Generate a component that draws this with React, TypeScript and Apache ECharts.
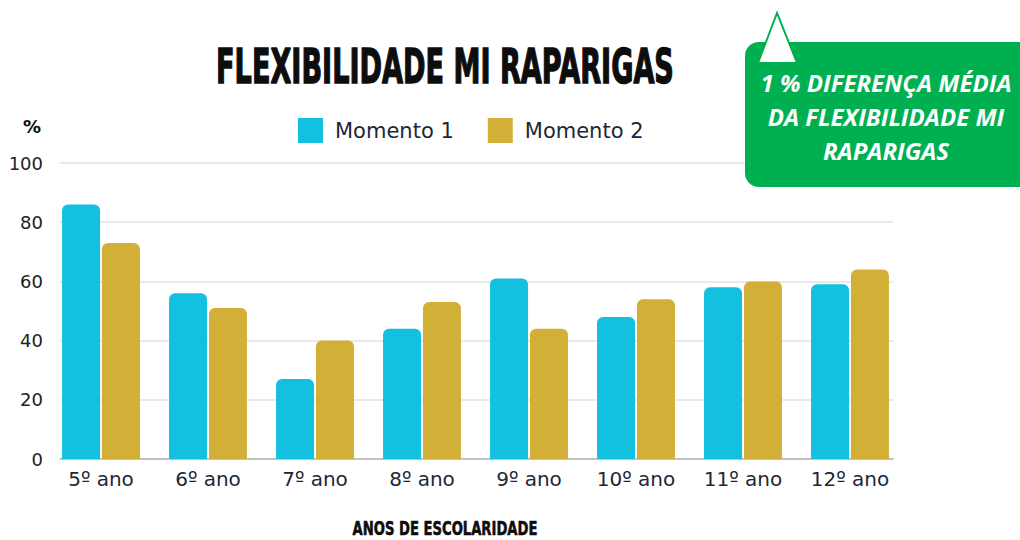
import React, { useEffect, useRef } from "react";
import * as echarts from "echarts";

const categories = ["5º ano", "6º ano", "7º ano", "8º ano", "9º ano", "10º ano", "11º ano", "12º ano"];
const momento1 = [86, 56, 27, 44, 61, 48, 58, 59];
const momento2 = [73, 51, 40, 53, 44, 54, 60, 64];
const seriesNames = ["Momento 1", "Momento 2"];
const yMin = 0;
const yMax = 100;
const yInterval = 20;
const titleText = "FLEXIBILIDADE MI RAPARIGAS";
const xAxisTitle = "ANOS DE ESCOLARIDADE";
const yAxisTitle = "%";
const calloutLines = ["1 % DIFERENÇA MÉDIA", "DA FLEXIBILIDADE MI", "RAPARIGAS"];

const BLUE = "#13c0e0";
const GOLD = "#d2b038";
const GREEN = "#00b050";
const INK = "#1e2736";

function fitScale(text: string, font: string, target: number): number {
  const ctx = document.createElement("canvas").getContext("2d");
  if (!ctx) return 1;
  ctx.font = font;
  const w = ctx.measureText(text).width;
  return w > 0 ? target / w : 1;
}

export default function App() {
  const ref = useRef<HTMLDivElement>(null);
  useEffect(() => {
    if (!ref.current) return;
    const chart = echarts.init(ref.current, undefined, { renderer: "svg" });
    const titleFont = "bold 48px 'DejaVu Sans'";
    const titleScale = fitScale(titleText, titleFont, 458);
    const xtFont = "bold 19px 'DejaVu Sans'";
    const xtScale = fitScale(xAxisTitle, xtFont, 185);
    const cFont = "italic bold 23px 'Open Sans'";
    const cScale = fitScale(calloutLines[0], cFont, 251);

    chart.setOption({
      animation: false,
      backgroundColor: "#ffffff",
      textStyle: { fontFamily: "DejaVu Sans" },
      legend: {
        data: seriesNames,
        left: 298,
        top: 118,
        padding: 0,
        icon: "rect",
        itemWidth: 25,
        itemHeight: 25,
        itemGap: 34,
        textStyle: { fontSize: 21, color: INK, fontFamily: "DejaVu Sans", padding: [0, 0, 0, 7] },
      },
      grid: [
        { left: 60, right: 127, top: 163, bottom: 81 },
        { left: 47.5, width: 856, top: 163, bottom: 81 },
      ],
      xAxis: [
        {
          type: "category",
          gridIndex: 0,
          data: categories,
          axisLabel: { show: false },
          axisTick: { show: false },
          axisLine: { lineStyle: { color: "#b4b4b4", width: 1.5 } },
        },
        {
          type: "category",
          gridIndex: 1,
          data: categories,
          axisLine: { show: false },
          axisTick: { show: false },
          axisLabel: { color: INK, fontSize: 20, margin: 10, interval: 0, fontFamily: "DejaVu Sans" },
        },
      ],
      yAxis: [
        {
          type: "value",
          gridIndex: 0,
          min: yMin,
          max: yMax,
          interval: yInterval,
          axisLabel: { color: "#222222", fontSize: 18, margin: 17, fontFamily: "DejaVu Sans" },
          axisLine: { show: false },
          axisTick: { show: false },
          splitLine: { lineStyle: { color: "#e2e2e2", width: 1.5 } },
        },
        {
          type: "value",
          gridIndex: 1,
          min: yMin,
          max: yMax,
          interval: yInterval,
          show: false,
          splitLine: { show: false },
        },
      ],
      series: [
        {
          name: seriesNames[0],
          type: "bar",
          xAxisIndex: 1,
          yAxisIndex: 1,
          data: momento1,
          barWidth: 38,
          barGap: "5%",
          itemStyle: { color: BLUE, borderRadius: [6, 6, 0, 0] },
        },
        {
          name: seriesNames[1],
          type: "bar",
          xAxisIndex: 1,
          yAxisIndex: 1,
          data: momento2,
          barWidth: 38,
          barGap: "5%",
          itemStyle: { color: GOLD, borderRadius: [6, 6, 0, 0] },
        },
      ],
      graphic: [
        {
          type: "text",
          x: 445,
          y: 66,
          scaleX: titleScale,
          style: {
            text: titleText,
            x: 0,
            y: 0,
            align: "center",
            verticalAlign: "middle",
            font: titleFont,
            fill: "#0d0d0d",
            stroke: "#0d0d0d",
            lineWidth: 1.5,
          },
        },
        {
          type: "text",
          x: 445,
          y: 529,
          scaleX: xtScale,
          style: {
            text: xAxisTitle,
            x: 0,
            y: 0,
            align: "center",
            verticalAlign: "middle",
            font: xtFont,
            fill: "#0d0d0d",
            stroke: "#0d0d0d",
            lineWidth: 0.6,
          },
        },
        {
          type: "text",
          x: 32,
          y: 126,
          style: {
            text: yAxisTitle,
            align: "center",
            verticalAlign: "middle",
            font: "bold 18px 'DejaVu Sans'",
            fill: "#0d0d0d",
          },
        },
        {
          type: "group",
          z: 100,
          children: [
            {
              type: "rect",
              z: 100,
              shape: { x: 745, y: 42, width: 300, height: 145, r: 14 },
              style: { fill: GREEN },
            },
            {
              type: "polygon",
              z: 101,
              shape: { points: [[777, 13], [758, 63], [797, 63]] },
              style: { fill: "#ffffff", stroke: GREEN, lineWidth: 2 },
            },
            ...calloutLines.map((line, i) => ({
              type: "text",
              x: 886,
              y: 83 + i * 34,
              scaleX: cScale,
              z: 102,
              style: {
                text: line,
                x: 0,
                y: 0,
                align: "center",
                verticalAlign: "middle",
                font: cFont,
                fill: "#ffffff",
              },
            })),
          ],
        },
      ],
    });
    return () => chart.dispose();
  }, []);
  return <div ref={ref} style={{ width: 1020, height: 540, position: "absolute", left: 0, top: 0 }} />;
}
